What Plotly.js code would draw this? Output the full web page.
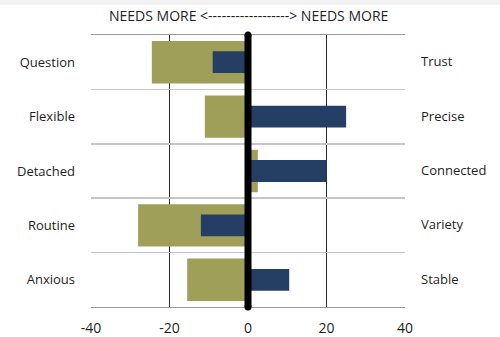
<!DOCTYPE html>
<html>
<head>
<meta charset="utf-8">
<script src="https://cdn.plot.ly/plotly-3.0.1.min.js"></script>
<style>
  html, body { margin: 0; padding: 0; background: #ffffff; }
  #chart { width: 500px; height: 337px; }
</style>
</head>
<body>
<div id="chart"></div>
<script>
// Paired traits: left-hand trait vs. its right-hand counterpart
const leftLabels  = ['Question', 'Flexible', 'Detached', 'Routine', 'Anxious'];
const rightLabels = ['Trust', 'Precise', 'Connected', 'Variety', 'Stable'];

// Two score series per pair (negative = needs more of the left trait)
const olive = [-24.5, -11, 2.5, -28, -15.5];
const navy  = [-9, 25, 20, -12, 10.5];

const xTicks = [-40, -20, 0, 20, 40];

const OLIVE = '#a09f5a';
const NAVY  = '#243e64';
const FONT  = '"Open Sans", "Noto Sans", sans-serif';
const TEXT  = '#1e1e1e';

const M = { l: 91, r: 95, t: 35, b: 30 };
const W = 500, H = 337;
const plotW = W - M.l - M.r, plotH = H - M.t - M.b;

const traces = [
  {
    type: 'bar', orientation: 'h',
    x: olive, y: leftLabels,
    width: 0.78,
    marker: { color: OLIVE, line: { width: 0 } },
    hoverinfo: 'x+y', showlegend: false
  },
  {
    type: 'bar', orientation: 'h',
    x: navy, y: leftLabels,
    width: 0.4,
    marker: { color: NAVY, line: { width: 0 } },
    hoverinfo: 'x+y', showlegend: false
  }
];

// Right-hand trait names, one per row
const rightAnnotations = rightLabels.map((t, i) => ({
  text: t, xref: 'paper', x: 1, xanchor: 'left', xshift: 14,
  yref: 'y', y: leftLabels[i], yanchor: 'middle', yshift: 1,
  showarrow: false, font: { family: FONT, size: 13, color: TEXT }
}));

const headline = {
  text: 'NEEDS MORE <------------------> NEEDS MORE',
  xref: 'x', x: 0, xanchor: 'center',
  yref: 'paper', y: 1 + 19.5 / plotH, yanchor: 'middle',
  showarrow: false, font: { family: FONT, size: 14, color: TEXT }
};

const shapes = [
  // thin grey strip along the top edge
  {
    type: 'rect', xref: 'paper', yref: 'paper',
    x0: -M.l / plotW, x1: 1 + M.r / plotW,
    y0: 1 + (M.t - 5) / plotH, y1: 1 + M.t / plotH,
    fillcolor: '#f2f2f2', line: { width: 0 }, layer: 'below'
  },
  // heavy zero divider with rounded ends
  {
    type: 'line', xref: 'x', yref: 'paper', x0: 0, x1: 0, y0: 0, y1: 1,
    line: { color: '#000000', width: 7 }, layer: 'above'
  },
  {
    type: 'circle', xref: 'x', yref: 'paper',
    xsizemode: 'pixel', ysizemode: 'pixel', xanchor: 0, yanchor: 1,
    x0: -3.5, x1: 3.5, y0: -3.5, y1: 3.5,
    fillcolor: '#000000', line: { width: 0 }, layer: 'above'
  },
  {
    type: 'circle', xref: 'x', yref: 'paper',
    xsizemode: 'pixel', ysizemode: 'pixel', xanchor: 0, yanchor: 0,
    x0: -3.5, x1: 3.5, y0: -3.5, y1: 3.5,
    fillcolor: '#000000', line: { width: 0 }, layer: 'above'
  }
];

const layout = {
  width: W, height: H,
  margin: M,
  paper_bgcolor: '#ffffff', plot_bgcolor: '#ffffff',
  barmode: 'overlay',
  showlegend: false,
  font: { family: FONT, color: TEXT },
  xaxis: {
    range: [-40, 40], tickvals: xTicks, ticktext: xTicks.map(String),
    showgrid: true, gridcolor: '#2a2a2a', gridwidth: 1,
    zeroline: false,
    showline: true, linecolor: '#9a9a9a', linewidth: 1, mirror: true,
    ticks: '', ticklabelstandoff: 8,
    tickfont: { family: FONT, size: 14, color: TEXT },
    fixedrange: true
  },
  yaxis: {
    type: 'category', categoryarray: leftLabels, categoryorder: 'array',
    autorange: 'reversed',
    tickson: 'boundaries',
    showgrid: true, gridcolor: '#c6c6c6', gridwidth: 1.5,
    zeroline: false,
    showline: false,
    ticks: '', ticklabelstandoff: 15,
    tickfont: { family: FONT, size: 13, color: TEXT },
    fixedrange: true
  },
  annotations: [headline].concat(rightAnnotations),
  shapes: shapes
};

Plotly.newPlot('chart', traces, layout, { displayModeBar: false, staticPlot: true });
</script>
</body>
</html>
